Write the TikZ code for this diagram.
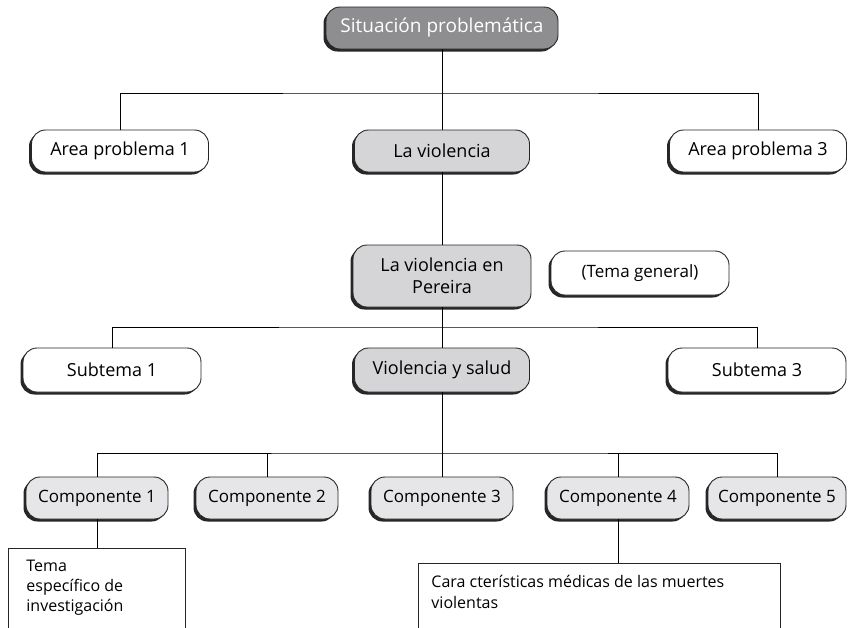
\documentclass[tikz,border=0pt]{standalone}
\usepackage{fontspec}
\setmainfont{Open Sans}
\usetikzlibrary{shadows}

\definecolor{grisoscuro}{HTML}{8E8E91}
\definecolor{grismedio}{HTML}{D5D5D7}
\definecolor{grisclaro}{HTML}{E6E6E8}

\begin{document}
\begin{tikzpicture}[x=1pt, y=-1pt, line width=0.9pt]
	\tikzstyle{caja}=[draw=black!85, rounded corners=14pt, minimum height=42pt, align=center, inner sep=3pt, font=\fontsize{18}{22}\selectfont, drop shadow={shadow xshift=-2.5pt, shadow yshift=-2.5pt, fill=black!85, opacity=1}];
	\tikzstyle{hoja}=[draw=black!85, line width=0.7pt, anchor=north west, align=left, inner sep=0pt];
	\tikzstyle{comp}=[caja, fill=grisclaro, minimum width=142pt, font=\fontsize{17}{20}\selectfont];
	\useasboundingbox (0,0) rectangle (848,627);

	% nivel 0 y 1
	\node[caja, fill=grisoscuro, text=white, minimum width=232pt, font=\fontsize{19}{22}\selectfont] (sit) at (442,28) {Situación problemática};
	\node[caja, fill=white, minimum width=177pt] (area1) at (120,151) {Area problema 1};
	\node[caja, fill=grismedio, minimum width=175pt] (viol) at (442,151) {La violencia};
	\node[caja, fill=white, minimum width=177pt] (area3) at (758,151) {Area problema 3};

	% tema general
	\node[caja, fill=grismedio, minimum width=178pt, minimum height=62pt] (pereira) at (442,276) {La violencia en\\Pereira};
	\node[caja, fill=white, minimum width=178pt, minimum height=44pt, font=\fontsize{17}{20}\selectfont] (tema) at (640,273) {(Tema general)};

	% subtemas
	\node[caja, fill=white, minimum width=178pt, minimum height=44pt] (sub1) at (112,370) {Subtema 1};
	\node[caja, fill=grismedio, minimum width=175pt, minimum height=44pt] (salud) at (442,370) {Violencia y salud};
	\node[caja, fill=white, minimum width=178pt, minimum height=44pt] (sub3) at (757,370) {Subtema 3};

	% componentes
	\node[comp] (comp1) at (97,498) {Componente 1};
	\node[comp] (comp2) at (267,498) {Componente 2};
	\node[comp] (comp3) at (442,498) {Componente 3};
	\node[comp] (comp4) at (618,498) {Componente 4};
	\node[comp, minimum width=138pt] (comp5) at (777,498) {Componente 5};

	% temas especificos (cortados por el borde)
	\node[hoja, minimum width=177pt, minimum height=110pt] (espec) at (8,548) {};
	\node[anchor=north west, align=left, font=\fontsize{16}{20}\selectfont, inner sep=0pt] (especT) at (26,560) {Tema\\específico de\\investigación};
	\node[hoja, minimum width=362pt, minimum height=100pt] (medic) at (418,563) {};
	\node[anchor=north west, align=left, font=\fontsize{16}{21}\selectfont, inner sep=0pt] (medicT) at (431,575) {Cara cterísticas médicas de las muertes\\violentas};

	% conectores
	\coordinate (b1) at (442,93);
	\coordinate (b2) at (442,327);
	\coordinate (b3) at (442,453);
	\draw (sit) -- (viol);
	\draw (area1.north) |- (b1) -| (area3.north);
	\draw (viol) -- (pereira);
	\draw (pereira) -- (salud);
	\draw (sub1.north) |- (b2) -| (sub3.north);
	\draw (salud) -- (comp3);
	\draw (comp1.north) |- (b3) -| (comp5.north);
	\draw (comp2.north) -- (comp2.north |- b3);
	\draw (comp4.north) -- (comp4.north |- b3);
	\draw (comp1.south) -- (comp1.south |- espec.north);
	\draw (comp4.south) -- (comp4.south |- medic.north);
\end{tikzpicture}
\end{document}
